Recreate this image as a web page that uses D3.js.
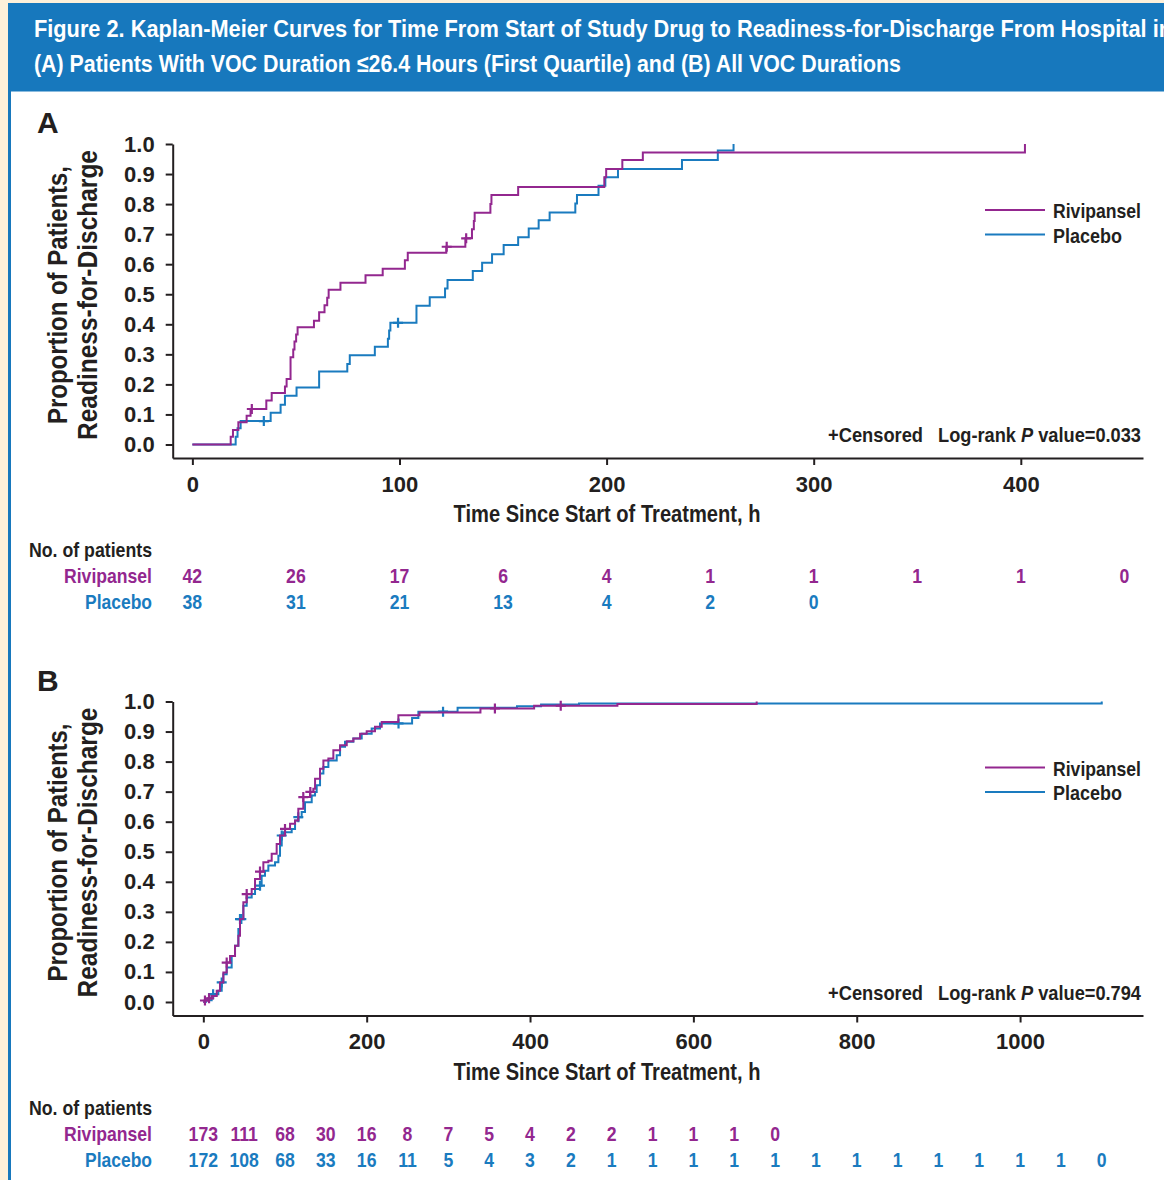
<!DOCTYPE html>
<html>
<head>
<meta charset="utf-8">
<script src="https://cdn.jsdelivr.net/npm/d3@7"></script>
<style>
body { margin: 0; background: #fdf0da; }
svg { display: block; }
text { font-family: 'Liberation Sans', Arial, Helvetica, sans-serif; font-weight: bold; fill: #231f20; }
</style>
</head>
<body>
<svg id="svg" width="1164" height="1180"></svg>
<script>
// Panel A: event time (h) and cumulative proportion after the event
const aRivi = [[18.5,0.026],[19.6,0.048],[22.2,0.074],[26.2,0.096],[28.1,0.118],[35.7,0.146],[38.3,0.171],
  [44.7,0.193],[45.5,0.218],[47.4,0.290],[48.7,0.316],[49.3,0.343],[50.1,0.366],[50.8,0.390],[58.7,0.412],
  [61.2,0.440],[63.8,0.463],[65.1,0.488],[65.8,0.515],[71.5,0.538],[83.6,0.563],[91.9,0.585],[102.6,0.613],
  [104.0,0.638],[122.6,0.658],[131.8,0.686],[135.0,0.716],[135.9,0.744],[136.3,0.771],[143.9,0.800],
  [144.4,0.830],[157.3,0.857],[198.9,0.889],[199.8,0.917],[207.6,0.947],[217.5,0.972],[402,1.0]]
const aPlac = [[20.9,0.026],[21.8,0.054],[23.3,0.078],[37.8,0.106],[42.6,0.132],[44.7,0.162],[50.3,0.190],
  [61.2,0.243],[74.8,0.268],[76.0,0.297],[88.1,0.325],[94.4,0.352],[95.0,0.379],[95.6,0.405],[108.2,0.462],
  [114.6,0.490],[122.0,0.519],[123.2,0.547],[135.4,0.577],[139.9,0.605],[144.7,0.633],[150.3,0.664],
  [157.3,0.690],[162.4,0.719],[167.2,0.746],[172.5,0.772],[184.9,0.802],[185.7,0.830],[196.1,0.861],
  [199.4,0.889],[205.5,0.917],[236.4,0.947],[253.7,0.978],[261.3,1.0]]
const aRiviCens = [28.7, 122.8, 132.2]
const aPlacCens = [34.5, 99.3]

// Panel B
const bRivi = [[1.5,0.005],[6,0.012],[10.2,0.020],[16.4,0.037],[20.4,0.065],[24.5,0.098],[28.6,0.131],
  [32.7,0.153],[38.8,0.187],[42.9,0.220],[44.9,0.276],[49.0,0.332],[53.1,0.359],[59.2,0.376],[63.3,0.409],
  [69.4,0.434],[73.5,0.465],[79.6,0.470],[83.7,0.493],[89.8,0.526],[93.9,0.554],[100.0,0.576],[106.2,0.593],
  [112.3,0.604],[116.3,0.643],[122.4,0.682],[130.6,0.699],[134.7,0.710],[136.8,0.743],[142.9,0.776],
  [147.0,0.804],[153.1,0.810],[159.2,0.838],[167.4,0.854],[175.6,0.868],[183.7,0.877],[191.9,0.893],
  [200.0,0.901],[210.2,0.916],[218.4,0.932],[238.8,0.954],[264.7,0.963],[339.3,0.977],[405,0.986],
  [507,0.992],[677.5,1.0]]
const bPlac = [[3,0.006],[10.2,0.026],[18.4,0.037],[22.5,0.065],[24.5,0.092],[28.6,0.115],[34.7,0.153],
  [38.8,0.187],[42.9,0.243],[44.9,0.276],[49.0,0.320],[53.1,0.348],[59.2,0.359],[63.3,0.376],[69.4,0.387],
  [71.4,0.420],[75.5,0.437],[79.6,0.454],[87.8,0.465],[91.9,0.487],[93.9,0.521],[96.0,0.554],[98.0,0.565],
  [108.2,0.576],[112.3,0.604],[116.3,0.615],[120.4,0.632],[124.5,0.665],[132.7,0.687],[136.8,0.699],
  [138.8,0.721],[142.9,0.760],[147.0,0.782],[153.1,0.804],[163.3,0.821],[167.4,0.849],[173.5,0.866],
  [183.7,0.877],[193.9,0.893],[206.1,0.910],[216.3,0.927],[255.6,0.945],[263.3,0.966],[311.3,0.979],
  [384,0.984],[413.5,0.990],[460,0.993],[1100,1.0]]
const bRiviCens = [2, 7, 28.6, 53.1, 69.4, 100, 122.4, 131, 357, 437.6]
const bPlacCens = [12, 22.5, 44.9, 46.5, 69.4, 96, 116.3, 239, 293.5]

// number at risk
const aRiskTimes = [0, 50, 100, 150, 200, 250, 300, 350, 400, 450]
const aRiskRivi = [42, 26, 17, 6, 4, 1, 1, 1, 1, 0]
const aRiskPlac = [38, 31, 21, 13, 4, 2, 0]
const bRiskTimes = [0, 50, 100, 150, 200, 250, 300, 350, 400, 450, 500, 550, 600, 650, 700, 750, 800, 850, 900, 950, 1000, 1050, 1100]
const bRiskRivi = [173, 111, 68, 30, 16, 8, 7, 5, 4, 2, 2, 1, 1, 1, 0]
const bRiskPlac = [172, 108, 68, 33, 16, 11, 5, 4, 3, 2, 1, 1, 1, 1, 1, 1, 1, 1, 1, 1, 1, 1, 0]

// ticks
const yTicks = [0, 0.1, 0.2, 0.3, 0.4, 0.5, 0.6, 0.7, 0.8, 0.9, 1.0]
const aXTicks = [0, 100, 200, 300, 400]
const bXTicks = [0, 200, 400, 600, 800, 1000]

const purple = '#93278f'
const blue = '#1a7bbf'
const headBlue = '#1778bd'

const svg = d3.select('#svg')

// squeeze text to a target width, or to a condensed ratio of its own width
const fit = (sel, w) => sel.attr('textLength', w).attr('lengthAdjust', 'spacingAndGlyphs')
const cond = (sel, r = 0.84) => fit(sel, sel.node().getComputedTextLength() * r)

// frame
svg.append('rect').attr('width', 1164).attr('height', 1180).attr('fill', '#fdf0da')
svg.append('rect').attr('x', 9.5).attr('y', 90).attr('width', 1170).attr('height', 1100)
    .attr('fill', '#fff').attr('stroke', headBlue).attr('stroke-width', 3)
svg.append('rect').attr('x', 8).attr('y', 3).attr('width', 1160).attr('height', 87).attr('fill', headBlue)

const h1 = svg.append('text').attr('x', 34).attr('y', 37).attr('font-size', 24).style('fill', '#fff')
    .text('Figure 2. Kaplan-Meier Curves for Time From Start of Study Drug to Readiness-for-Discharge From Hospital in')
const h2 = svg.append('text').attr('x', 34).attr('y', 72).attr('font-size', 24).style('fill', '#fff')
    .text('(A) Patients With VOC Duration \u226426.4 Hours (First Quartile) and (B) All VOC Durations')
fit(h1, 1138)
fit(h2, 867)

function panel(o) {
    const g = svg.append('g').attr('transform', `translate(0, ${o.dy})`)
    const x = d3.scaleLinear().domain(o.xDomain).range([172.7, 1143])
    const y = d3.scaleLinear().domain([-0.045, 1]).range([458, 144])

    g.append('text').attr('x', 37).attr('y', 133).attr('font-size', 30).text(o.label)

    // y title
    const yt = g.append('g').attr('transform', 'translate(67, 295) rotate(-90)')
    fit(yt.append('text').attr('text-anchor', 'middle').attr('font-size', 28).text('Proportion of Patients,'), 258)
    fit(yt.append('text').attr('text-anchor', 'middle').attr('y', 30).attr('font-size', 28).text('Readiness-for-Discharge'), 290)

    const yAxis = d3.axisLeft(y).tickValues(yTicks).tickFormat(d3.format('.1f'))
        .tickSize(7).tickSizeOuter(0).tickPadding(11)
    const ya = g.append('g').attr('transform', 'translate(172.7, 0)').call(yAxis)

    const xAxis = d3.axisBottom(x).tickValues(o.xTicks).tickFormat(d3.format('d'))
        .tickSize(7).tickSizeOuter(0).tickPadding(11)
    const xa = g.append('g').attr('transform', 'translate(0, 458)').call(xAxis)

    ;[ya, xa].forEach(a => {
        a.selectAll('path, line').attr('stroke', '#231f20').attr('stroke-width', 2)
        a.selectAll('text').style('font-size', '22px')
    })

    fit(g.append('text').attr('x', 607).attr('y', 522).attr('text-anchor', 'middle').attr('font-size', 23)
        .text('Time Since Start of Treatment, h'), 307)

    // curves
    const line = d3.line().x(d => x(d[0])).y(d => y(d[1])).curve(d3.curveStepAfter)
    const pAt = (data, t) => {
        let p = 0
        data.forEach(d => { if (d[0] <= t + 1e-9) p = d[1] })
        return p
    }
    const series = [
        { data: o.rivi, cens: o.riviCens, color: purple },
        { data: o.plac, cens: o.placCens, color: blue }
    ]
    // placebo drawn first, rivipansel on top
    series.slice().reverse().forEach(s => {
        g.append('path').datum([[0, 0]].concat(s.data)).attr('d', line)
            .attr('fill', 'none').attr('stroke', s.color).attr('stroke-width', 2)
        s.cens.forEach(t => {
            const cx = x(t), cy = y(pAt(s.data, t))
            g.append('path').attr('d', `M${cx - 5},${cy}h10M${cx},${cy - 5}v10`)
                .attr('stroke', s.color).attr('stroke-width', 2.2).attr('fill', 'none')
        })
    })

    // legend
    const leg = [['Rivipansel', purple, 88], ['Placebo', blue, 69]]
    leg.forEach((d, i) => {
        const ly = 210 + i * 24.5
        g.append('line').attr('x1', 985).attr('x2', 1045).attr('y1', ly).attr('y2', ly)
            .attr('stroke', d[1]).attr('stroke-width', 2)
        fit(g.append('text').attr('x', 1053).attr('y', ly + 8).attr('font-size', 21).text(d[0]), d[2])
    })

    fit(g.append('text').attr('x', 828).attr('y', 442).attr('font-size', 21).text('+Censored'), 95)
    const ct = g.append('text').attr('x', 1141).attr('y', 442).attr('text-anchor', 'end').attr('font-size', 21)
    ct.append('tspan').text('Log-rank ')
    ct.append('tspan').style('font-style', 'italic').text('P')
    ct.append('tspan').text(' value=' + o.pval)
    fit(ct, 203)

    // number at risk
    fit(g.append('text').attr('x', 29).attr('y', 557).attr('font-size', 21).text('No. of patients'), 123)
    const rows = [['Rivipansel', purple, o.riskRivi, 88], ['Placebo', blue, o.riskPlac, 67]]
    rows.forEach((r, i) => {
        const ry = 583 + i * 26
        fit(g.append('text').attr('x', 152).attr('y', ry).attr('text-anchor', 'end').attr('font-size', 21)
            .style('fill', r[1]).text(r[0]), r[3])
        r[2].forEach((n, j) => {
            cond(g.append('text').attr('x', x(o.riskTimes[j])).attr('y', ry).attr('text-anchor', 'middle')
                .attr('font-size', 21).style('fill', r[1]).text(n))
        })
    })
}

panel({ dy: 0, label: 'A', xDomain: [-9.5, 459], xTicks: aXTicks, rivi: aRivi, plac: aPlac,
    riviCens: aRiviCens, placCens: aPlacCens, pval: '0.033',
    riskTimes: aRiskTimes, riskRivi: aRiskRivi, riskPlac: aRiskPlac })
panel({ dy: 557.5, label: 'B', xDomain: [-37.5, 1150.5], xTicks: bXTicks, rivi: bRivi, plac: bPlac,
    riviCens: bRiviCens, placCens: bPlacCens, pval: '0.794',
    riskTimes: bRiskTimes, riskRivi: bRiskRivi, riskPlac: bRiskPlac })
</script>
</body>
</html>
